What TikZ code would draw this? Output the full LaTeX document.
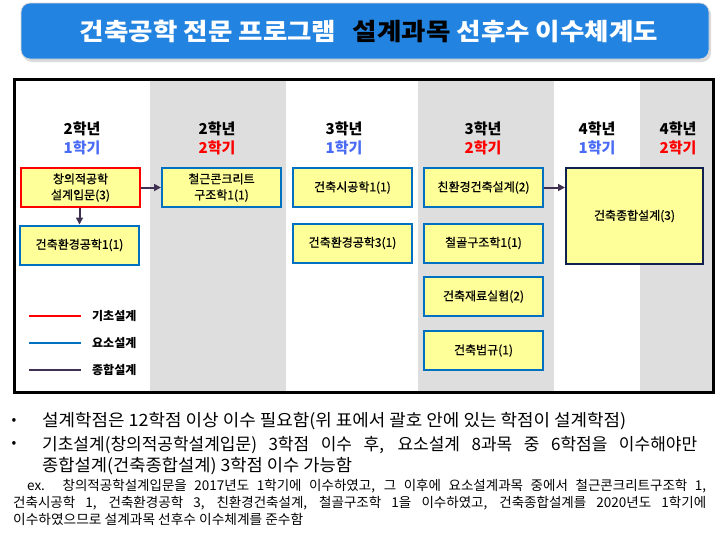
\documentclass[tikz,border=0pt]{standalone}
\usepackage{fontspec}
\setmainfont{Noto Sans CJK KR}
\newfontfamily\boxfont[FakeBold=0.6]{Noto Sans CJK KR}
\usetikzlibrary{arrows.meta,shadows}
\definecolor{titleblue}{HTML}{2383E0}
\definecolor{boxfill}{HTML}{FFFF99}
\definecolor{blueline}{HTML}{0070C0}
\definecolor{navyline}{HTML}{0F1F50}
\definecolor{arrowc}{HTML}{403152}
\definecolor{colgray}{HTML}{DEDEDE}
\definecolor{semblue}{HTML}{4A6BF5}
\definecolor{semred}{HTML}{FF0000}
\newlength\fitlen
\newcommand\fitto[2]{\settowidth\fitlen{#2}\pgfmathsetmacro\fitfac{#1/\fitlen}\scalebox{\fitfac}[1]{#2}}
\begin{document}
\begin{tikzpicture}[x=1pt,y=-1pt,
  course/.style={draw=blueline, line width=2pt, fill=boxfill, minimum width=119pt, minimum height=39pt,
    inner sep=0pt, align=center, font=\boxfont\fontsize{12}{16}\selectfont},
  basiccourse/.style={course, draw=red},
  hdr/.style={font=\fontsize{15}{15}\selectfont\bfseries, inner sep=0pt},
  legtxt/.style={font=\fontsize{12}{12}\selectfont\bfseries, inner sep=0pt, anchor=west},
  legline/.style={line width=2pt},
  flow/.style={draw=arrowc, line width=2pt, -{Triangle[length=7pt,width=7pt]}},
  bodytxt/.style={font=\fontsize{17}{17}\selectfont, inner sep=0pt, anchor=base west},
  extxt/.style={font=\fontsize{13.5}{13.5}\selectfont, inner sep=0pt, anchor=base west}]
\useasboundingbox (0,0) rectangle (726,539);
\fill[white] (0,0) rectangle (726,539);
% title banner
\node[fill=titleblue, draw=gray!30, line width=0.8pt, rounded corners=9pt, minimum width=688pt, minimum height=56pt,
  drop shadow={shadow xshift=2pt, shadow yshift=-3pt, fill=gray!55}, inner sep=0pt] (title) at (365,31) {};
\node[text=white, inner sep=0pt, font=\fontsize{24}{24}\selectfont\bfseries] (titletext) at (369,31)
  {\fitto{578}{건축공학 전문 프로그램\hspace{0.4em} \textcolor{black}{설계과목} 선후수 이수체계도}};
% columns
\fill[colgray] (150,79) rectangle (286,392);
\fill[colgray] (418,79) rectangle (554,392);
\fill[colgray] (640,79) rectangle (713,392);
\draw[line width=3pt] (14.5,79) rectangle (713.5,392.5);
% headers
\node[hdr] (y1) at (82,129) {2학년};
\node[hdr, text=semblue] (s1) at (82,148) {1학기};
\node[hdr] (y2) at (217,129) {2학년};
\node[hdr, text=semred] (s2) at (217,148) {2학기};
\node[hdr] (y3) at (344,129) {3학년};
\node[hdr, text=semblue] (s3) at (344,148) {1학기};
\node[hdr] (y4) at (483,129) {3학년};
\node[hdr, text=semred] (s4) at (483,148) {2학기};
\node[hdr] (y5) at (597,129) {4학년};
\node[hdr, text=semblue] (s5) at (597,148) {1학기};
\node[hdr] (y6) at (678,129) {4학년};
\node[hdr, text=semred] (s6) at (678,148) {2학기};
% courses
\node[basiccourse] (c1a) at (80.5,187.5) {창의적공학\\설계입문(3)};
\node[course] (c1b) at (79.5,245) {건축환경공학1(1)};
\node[course] (c2a) at (221.5,187.5) {철근콘크리트\\구조학1(1)};
\node[course] (c3a) at (352.5,187.5) {건축시공학1(1)};
\node[course] (c3b) at (352.5,243) {건축환경공학3(1)};
\node[course] (c4a) at (483.5,187.5) {친환경건축설계(2)};
\node[course] (c4b) at (483.5,243) {철골구조학1(1)};
\node[course] (c4c) at (483.5,296.5) {건축재료실험(2)};
\node[course] (c4d) at (483.5,350.5) {건축법규(1)};
\node[course, draw=navyline, minimum width=137pt, minimum height=96pt] (c5) at (634.5,216) {건축종합설계(3)};
% connectors
\draw[flow] (c1a.east) -- (c2a.west);
\draw[flow] (c1a.south -| c1b.north) -- (c1b.north);
\draw[flow] (c4a.east) -- (c4a.east -| c5.west);
% legend
\coordinate (l1a) at (29,316); \coordinate (l1b) at (81,316);
\coordinate (l2a) at (29,343); \coordinate (l2b) at (81,343);
\coordinate (l3a) at (29,370); \coordinate (l3b) at (81,370);
\draw[legline, red] (l1a) -- (l1b);
\draw[legline, blueline] (l2a) -- (l2b);
\draw[legline, arrowc] (l3a) -- (l3b);
\node[legtxt] (lt1) at (92,316) {기초설계};
\node[legtxt] (lt2) at (92,343) {요소설계};
\node[legtxt] (lt3) at (92,370) {종합설계};
% notes
\node[font=\fontsize{14}{14}\selectfont, inner sep=0pt] (b1) at (14,421) {•};
\node[font=\fontsize{14}{14}\selectfont, inner sep=0pt] (b2) at (14,444) {•};
\node[bodytxt] (t1) at (42,426.5) {\fitto{584}{설계학점은 12학점 이상 이수 필요함(위 표에서 괄호 안에 있는 학점이 설계학점)}};
\node[bodytxt] (t2) at (42,450.5) {\makebox[655pt][s]{기초설계(창의적공학설계입문) 3학점 이수 후, 요소설계 8과목 중 6학점을 이수해야만}};
\node[bodytxt] (t3) at (42,471.5) {\fitto{310}{종합설계(건축종합설계) 3학점 이수 가능함}};
\node[extxt] (e1) at (27,490) {\makebox[679pt][s]{ex. 창의적공학설계입문을 2017년도 1학기에 이수하였고, 그 이후에 요소설계과목 중에서 철근콘크리트구조학 1,}};
\node[extxt] (e2) at (13,507) {\makebox[693pt][s]{건축시공학 1, 건축환경공학 3, 친환경건축설계, 철골구조학 1을 이수하였고, 건축종합설계를 2020년도 1학기에}};
\node[extxt] (e3) at (13,524) {\fitto{290}{이수하였으므로 설계과목 선후수 이수체계를 준수함}};
\end{tikzpicture}
\end{document}
